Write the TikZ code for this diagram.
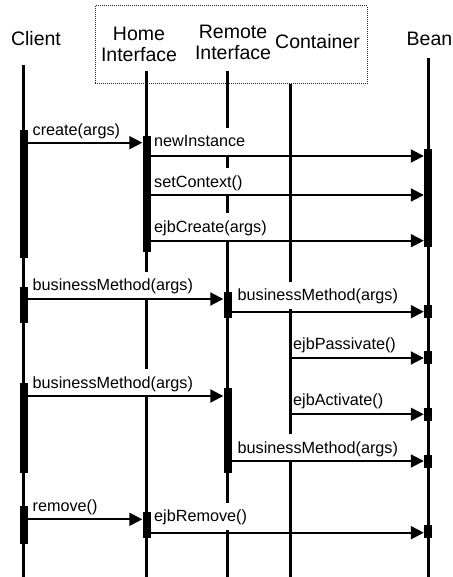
\documentclass[tikz,border=0pt]{standalone}
\usepackage{fontspec}
\setmainfont{Liberation Sans}
\usetikzlibrary{arrows.meta}
\newcommand\headfont{\fontsize{19.5pt}{21pt}\selectfont}
\newcommand\msgfont{\fontsize{16.2pt}{18pt}\selectfont}
\tikzset{
  lifeline/.style={line width=3pt},
  actbar/.style={fill=black, draw=none, minimum width=8pt, inner sep=0pt},
  msg/.style={line width=2pt, -{Triangle[length=13pt,width=13pt]}},
  msglabel/.style={fill=white, font=\msgfont, inner xsep=3pt, inner ysep=0pt,
    text height=19pt, text depth=8pt, anchor=base west},
  head/.style={font=\headfont, align=center, inner sep=0pt, anchor=base},
  groupframe/.style={draw=black!85, line width=1pt, dash pattern=on 1pt off 1pt}
}
\begin{document}
\begin{tikzpicture}[x=1pt, y=-1pt]
\useasboundingbox (0,0) rectangle (452,577);

% container group frame
\draw[groupframe] (95,6) rectangle (367,84);

% participants (two-line names sit on the baseline of their last line)
\node[head] (client) at (36,45.7) {Client};
\node[head] (home) at (139,61.7) {Home\\Interface};
\node[head] (remote) at (233,59.5) {Remote\\Interface};
\node[head] (cont) at (317.5,48.3) {Container};
\node[head, anchor=base west] (bean) at (406.5,45.7) {Bean};

% lifeline tops and bottom level
\coordinate (lc) at (23.5,65);
\coordinate (lh) at (146.5,71);
\coordinate (lr) at (227.5,71);
\coordinate (lk) at (290,84);
\coordinate (lb) at (428,58);
\coordinate (bottom) at (0,578);

\draw[lifeline] (lc) -- (lc |- bottom);
\draw[lifeline] (lh) -- (lh |- bottom);
\draw[lifeline] (lr) -- (lr |- bottom);
\draw[lifeline] (lk) -- (lk |- bottom);
\draw[lifeline] (lb) -- (lb |- bottom);

% message labels (white boxes hide the lifelines behind them)
\node[msglabel] (t1)  at (29.5,136)   {create(args)};
\node[msglabel] (t2)  at (151,146.7)  {newInstance};
\node[msglabel] (t3)  at (151,187)    {setContext()};
\node[msglabel] (t4)  at (151,232)    {ejbCreate(args)};
\node[msglabel] (t5)  at (29.5,290.7) {businessMethod(args)};
\node[msglabel] (t6)  at (234.5,300.7){businessMethod(args)};
\node[msglabel, inner xsep=1pt] (t7) at (292,349.5) {ejbPassivate()};
\node[msglabel] (t8)  at (29.5,388.3) {businessMethod(args)};
\node[msglabel, inner xsep=1pt] (t9) at (292,405) {ejbActivate()};
\node[msglabel] (t10) at (234.5,453.3){businessMethod(args)};
\node[msglabel] (t11) at (29.5,511.7) {remove()};
\node[msglabel] (t12) at (151,521.7)  {ejbRemove()};

% activation bars
\node[actbar, minimum height=128pt] (c1) at (23.5,194) {};
\node[actbar, minimum height=36pt]  (c2) at (23.5,305) {};
\node[actbar, minimum height=90pt]  (c3) at (23.5,428) {};
\node[actbar, minimum height=38pt]  (c4) at (23.5,525) {};
\node[actbar, minimum height=116pt] (h1) at (146.5,194) {};
\node[actbar, minimum height=26pt]  (h2) at (146.5,525) {};
\node[actbar, minimum height=26pt]  (r1) at (227.5,305) {};
\node[actbar, minimum height=85pt]  (r2) at (227.5,430.5) {};
\node[actbar, minimum height=98pt]  (b1) at (428,198) {};
\node[actbar, minimum height=13pt]  (b2) at (428,311.5) {};
\node[actbar, minimum height=13pt]  (b3) at (428,357.5) {};
\node[actbar, minimum height=13pt]  (b4) at (428,414.5) {};
\node[actbar, minimum height=13pt]  (b5) at (428,461.5) {};
\node[actbar, minimum height=13pt]  (b6) at (428,531.5) {};

% message levels
\coordinate (y1) at (0,142.7);
\coordinate (y2) at (0,156);
\coordinate (y3) at (0,195);
\coordinate (y4) at (0,240.7);
\coordinate (y5) at (0,299);
\coordinate (y6) at (0,311.7);
\coordinate (y7) at (0,358);
\coordinate (y8) at (0,396);
\coordinate (y9) at (0,414.3);
\coordinate (y10) at (0,461);
\coordinate (y11) at (0,519.3);
\coordinate (y12) at (0,532.7);

% messages
\draw[msg] (c1.east |- y1) -- (h1.west |- y1);
\draw[msg] (h1.east |- y2) -- (b1.west |- y2);
\draw[msg] (h1.east |- y3) -- (b1.west |- y3);
\draw[msg] (h1.east |- y4) -- (b1.west |- y4);
\draw[msg] (c2.east |- y5) -- (r1.west |- y5);
\draw[msg] (r1.east |- y6) -- (b2.west |- y6);
\draw[msg] (lk |- y7) -- (b3.west |- y7);
\draw[msg] (c3.east |- y8) -- (r2.west |- y8);
\draw[msg] (lk |- y9) -- (b4.west |- y9);
\draw[msg] (r2.east |- y10) -- (b5.west |- y10);
\draw[msg] (c4.east |- y11) -- (h2.west |- y11);
\draw[msg] (h2.east |- y12) -- (b6.west |- y12);
\end{tikzpicture}
\end{document}
